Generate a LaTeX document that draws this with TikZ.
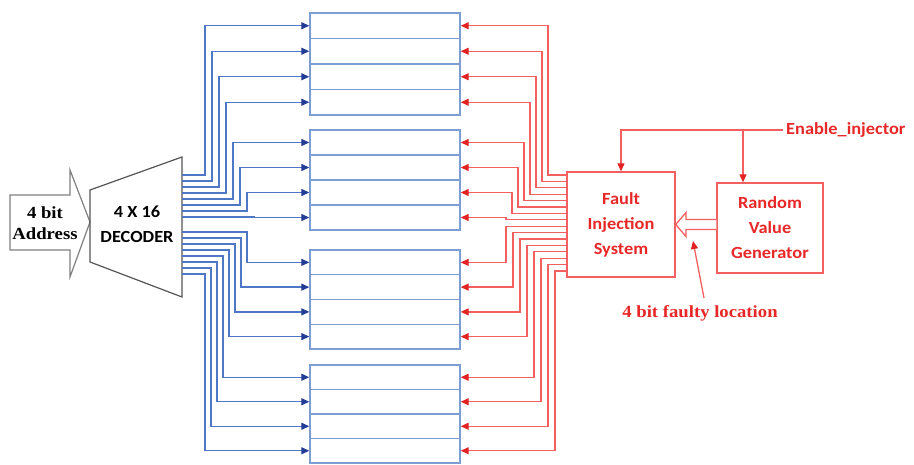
\documentclass[tikz,border=0pt]{standalone}
\usepackage{fontspec}
\setmainfont{Liberation Serif}
\newfontfamily\sansf[FakeStretch=1.08]{Carlito}
\newfontfamily\seriff[FakeStretch=1.1]{Liberation Serif}
\usetikzlibrary{arrows.meta,calc}
\definecolor{wireblue}{RGB}{78,120,198}
\definecolor{tipblue}{RGB}{35,60,150}
\definecolor{boxblue}{RGB}{125,158,210}
\definecolor{wirered}{RGB}{244,96,96}
\definecolor{tipred}{RGB}{225,35,35}
\definecolor{txtred}{RGB}{232,40,40}
\definecolor{decgray}{RGB}{85,85,85}
\tikzset{
  memrow/.style={draw=boxblue, line width=1.4pt, minimum width=150pt, inner sep=0pt},
  bluewire/.style={draw=wireblue, line width=1.3pt, -{Triangle[length=8pt,width=7pt,color=tipblue]}},
  redwire/.style={draw=wirered, line width=1.3pt, -{Triangle[length=8pt,width=7pt,color=tipred]}},
  redline/.style={draw=wirered, line width=1.3pt},
  redbox/.style={draw=wirered, line width=1.4pt, text=txtred, align=center,
    font=\sansf\bfseries\fontsize{17}{25}\selectfont},
  sanslabel/.style={align=center, font=\sansf\bfseries\fontsize{17}{25}\selectfont},
  seriflabel/.style={align=center, font=\seriff\bfseries\fontsize{17}{21}\selectfont},
  shapeline/.style={draw=decgray, line width=1.2pt}
}
\begin{document}
\begin{tikzpicture}[x=1pt,y=-1pt]
\path[use as bounding box, fill=white] (0,0) rectangle (914,465);

% memory rows
\foreach \g/\t/\h in {0/13/25.5,1/130/25,2/250/24.75,3/365/24.5}{
  \foreach \r in {1,...,4}{
    \pgfmathtruncatemacro\n{4*\g+\r}
    \node[memrow, minimum height=\h pt] (r\n) at (385, {\t+\h*(\r-0.5)}) {};
  }
}

% address arrow
\draw[shapeline, draw=gray] (10,195) -- (70,195) -- (70,170) -- (90,222) -- (70,277) -- (70,250) -- (10,250) -- cycle;
\node[seriflabel] (addr) at (45,223) {4 bit\\Address};

% decoder
\draw[shapeline] (90,190) -- (182,157) -- (182,297) -- (90,262) -- cycle;
\node[sanslabel] (dec) at (137,224) {4 X 16\\DECODER};

% decoder outputs
\foreach \i in {1,...,8}{
  \coordinate (do\i) at (182, {175+6*(\i-1)});
  \draw[bluewire] (do\i) -- ++({205+7*(\i-1)-182},0) |- (r\i.west);
}
\foreach \j in {1,...,8}{
  \pgfmathtruncatemacro\n{8+\j}
  \coordinate (do\n) at (182, {232+6*(\j-1)});
  \draw[bluewire] (do\n) -- ++({247-6*(\j-1)-182},0) |- (r\n.west);
}

% fault injection system and generator
\node[redbox, minimum width=108pt, minimum height=105pt] (fis) at (621,224.5) {Fault\\Injection\\System};
\node[redbox, minimum width=106pt, minimum height=90pt] (rvg) at (770,228) {Random\\Value\\Generator};

\foreach \i in {1,...,8}{
  \coordinate (fo\i) at (567, {175+6.4*(\i-1)});
  \draw[redwire] (fo\i) -- ++({548-6*(\i-1)-567},0) |- (r\i.east);
}
\foreach \j in {1,...,8}{
  \pgfmathtruncatemacro\n{8+\j}
  \coordinate (fo\n) at (567, {175+6.4*(\n-1)});
  \draw[redwire] (fo\n) -- ++({506+7*(\j-1)-567},0) |- (r\n.east);
}

% enable injector
\node[sanslabel, text=txtred, anchor=west, inner sep=3pt] (en) at (783,130) {Enable\_injector};
\draw[redwire] (en.west) -| (fis.north);
\coordinate (br) at (743,130);
\draw[redwire] (br) -- (br |- rvg.north);

% hollow arrow
\draw[redline, fill=white] (rvg.west |- 0,219.5) -- (686,219.5) -- (686,212.5) -- (fis.east) -- (686,236.5) -- (686,229.5) -- (rvg.west |- 0,229.5);

% faulty location label
\node[seriflabel, text=txtred] (loc) at (700,313) {4 bit faulty location};
\coordinate (lt) at (704,298);
\coordinate (lh) at (693,241);
\draw[redwire] (lt) -- (lh);
\end{tikzpicture}
\end{document}
